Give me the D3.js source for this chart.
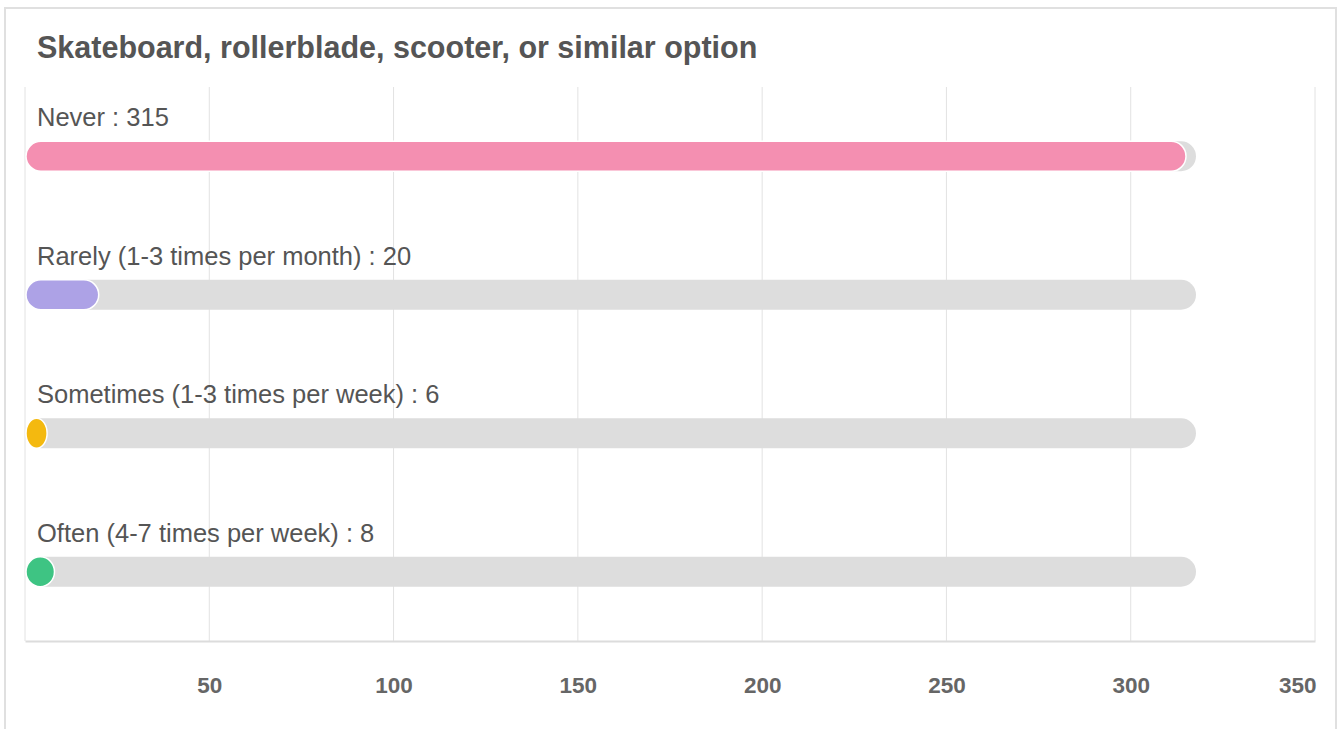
<!DOCTYPE html>
<html>
<head>
<meta charset="utf-8">
<script src="https://cdn.jsdelivr.net/npm/d3@7"></script>
<style>
  html, body { margin: 0; padding: 0; background: #fff; }
  svg { display: block; font-family: "Liberation Sans", Arial, Helvetica, sans-serif; }
</style>
</head>
<body>
<svg id="chart" width="1340" height="729"></svg>
<script>
// Survey answers: how often respondents use a skateboard, rollerblade, scooter, or similar
const title = "Skateboard, rollerblade, scooter, or similar option";
const categories = ["Never", "Rarely (1-3 times per month)", "Sometimes (1-3 times per week)", "Often (4-7 times per week)"];
const counts = [315, 20, 6, 8];
const colors = ["#f48fb1", "#ada2e6", "#f4b90f", "#3ec483"];
const tickValues = [50, 100, 150, 200, 250, 300, 350];

const svg = d3.select("#chart");
const W = 1340, H = 729;
const plot = { left: 25, right: 1315, top: 87, bottom: 641 };
const barH = 30;

// outer card frame
svg.append("rect")
  .attr("x", 5).attr("y", 8)
  .attr("width", 1331).attr("height", H + 20)
  .attr("fill", "#fff")
  .attr("stroke", "#e0e0e0").attr("stroke-width", 2);

svg.append("text")
  .attr("x", 37).attr("y", 58)
  .attr("fill", "#555")
  .attr("font-size", 30.5).attr("font-weight", "bold")
  .text(title);

const x = d3.scaleLinear().domain([0, 350]).range([plot.left, plot.right]);
const y = d3.scaleBand().domain(categories).range([plot.top, plot.bottom]);

// vertical gridlines
svg.append("g").selectAll("line")
  .data([0, ...tickValues])
  .join("line")
  .attr("x1", d => x(d)).attr("x2", d => x(d))
  .attr("y1", plot.top).attr("y2", plot.bottom)
  .attr("stroke", "#e2e2e2").attr("stroke-width", 1);

// bottom axis
const axis = svg.append("g")
  .attr("transform", `translate(0,${plot.bottom})`)
  .call(d3.axisBottom(x).tickValues(tickValues).tickSize(0).tickPadding(36));
axis.select(".domain").attr("stroke", "#dcdcdc").attr("stroke-width", 2);
axis.selectAll("text")
  .attr("fill", "#666").attr("font-size", 22.5).attr("font-weight", "bold")
  .attr("font-family", "Liberation Sans, Arial, sans-serif")
  .attr("text-anchor", d => d === 350 ? "end" : "middle")
  .attr("dx", d => d === 350 ? "0.05em" : 0);

const maxCount = d3.max(counts);
const rows = svg.append("g").selectAll("g")
  .data(categories.map((c, i) => ({ c, v: counts[i], color: colors[i] })))
  .join("g")
  .attr("transform", d => `translate(0,${y(d.c) + y.bandwidth() / 2})`);

// track behind each bar
rows.append("rect")
  .attr("x", x(0) + 1).attr("y", -barH / 2)
  .attr("width", x(maxCount) - x(0) + 9).attr("height", barH)
  .attr("rx", barH / 2).attr("ry", barH / 2)
  .attr("fill", "#dddddd");

// value bar
rows.append("rect")
  .attr("x", x(0) + 1).attr("y", -barH / 2)
  .attr("width", d => x(d.v) - x(0) - 1).attr("height", barH)
  .attr("rx", barH / 2).attr("ry", barH / 2)
  .attr("fill", d => d.color)
  .attr("stroke", "#fff").attr("stroke-width", 1.5);

rows.append("text")
  .attr("x", 37).attr("y", -30)
  .attr("fill", "#555").attr("font-size", 25.5)
  .text(d => `${d.c} : ${d.v}`);
</script>
</body>
</html>
